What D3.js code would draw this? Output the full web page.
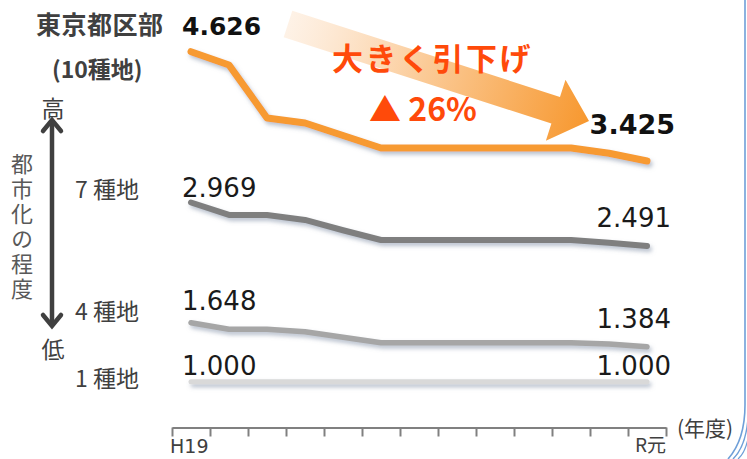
<!DOCTYPE html>
<html><head><meta charset="utf-8">
<script src="https://cdn.jsdelivr.net/npm/d3@7/dist/d3.min.js"></script>
<style>
html,body{margin:0;padding:0;background:#fff;}
svg{display:block;}
</style></head>
<body>
<svg id="c" width="747" height="459"></svg>
<script>
const years = ["H19","H20","H21","H22","H23","H24","H25","H26","H27","H28","H29","H30","R元"];
const tokyo10 = [4.626,4.48,3.898,3.843,3.705,3.568,3.568,3.568,3.568,3.568,3.568,3.51,3.425];
const grade7  = [2.969,2.832,2.832,2.777,2.664,2.557,2.557,2.557,2.557,2.557,2.557,2.527,2.491];
const grade4  = [1.648,1.576,1.576,1.549,1.489,1.429,1.429,1.429,1.429,1.429,1.429,1.414,1.384];
const grade1  = [1.000,1.000,1.000,1.000,1.000,1.000,1.000,1.000,1.000,1.000,1.000,1.000,1.000];
const seriesNames = ["10種地","7種地","4種地","1種地"];
const xTickLabels = ["H19","R元"];

const JP = "'Noto Sans CJK JP', 'Noto Sans', sans-serif";
const NUM = "'DejaVu Sans', sans-serif";

const svg = d3.select("#c");
const defs = svg.append("defs");

// drop shadow (user-space region so flat lines are not clipped)
const f = defs.append("filter").attr("id","sh").attr("filterUnits","userSpaceOnUse")
  .attr("x",0).attr("y",0).attr("width",747).attr("height",459);
f.append("feDropShadow").attr("dx",2).attr("dy",3).attr("stdDeviation",2)
  .attr("flood-color","#7f8fa6").attr("flood-opacity",0.55);

// scales
const x = d3.scaleBand().domain(years).range([172,666]).padding(0);
const xb = d3.scaleLinear().domain([0, years.length]).range([172,666]);
const y = d3.scaleLinear().domain([1, 4.626]).range([381.7, 51.7]);
const cx = d => x(d) + x.bandwidth()/2;

// big gradient arrow
const a0 = [288,24], a1 = [589,121];
const grad = defs.append("linearGradient").attr("id","ag").attr("gradientUnits","userSpaceOnUse")
  .attr("x1",a0[0]).attr("y1",a0[1]).attr("x2",a1[0]).attr("y2",a1[1]);
grad.append("stop").attr("offset",0).attr("stop-color","#fde9d6").attr("stop-opacity",0.6);
grad.append("stop").attr("offset",0.45).attr("stop-color","#fbcb98");
grad.append("stop").attr("offset",1).attr("stop-color","#f7982f");
(function(){
  const dx=a1[0]-a0[0], dy=a1[1]-a0[1], L=Math.hypot(dx,dy);
  const ux=dx/L, uy=dy/L, px=-uy, py=ux;
  const hw=14, hh=32, hl=35;
  const bx=a1[0]-ux*hl, by=a1[1]-uy*hl;
  const pts=[
    [a0[0]+px*hw,a0[1]+py*hw],[bx+px*hw,by+py*hw],[bx+px*hh,by+py*hh],[a1[0],a1[1]],
    [bx-px*hh,by-py*hh],[bx-px*hw,by-py*hw],[a0[0]-px*hw,a0[1]-py*hw]];
  svg.append("path").attr("d","M"+pts.map(p=>p.join(",")).join("L")+"Z").attr("fill","url(#ag)");
})();

// lines
const line = d3.line().x((d,i)=>cx(years[i])).y(d=>y(d));
const series = [
  {vals:grade1, color:"#d9d9d9", w:5},
  {vals:grade4, color:"#a6a6a6", w:5.5},
  {vals:grade7, color:"#7f7f7f", w:6},
  {vals:tokyo10, color:"#f79a32", w:7}
];
series.forEach(s=>{
  svg.append("path").datum(s.vals).attr("d",line).attr("fill","none")
    .attr("stroke",s.color).attr("stroke-width",s.w).attr("stroke-linejoin","round")
    .attr("stroke-linecap","round").attr("filter","url(#sh)");
});

// x axis
const axis = d3.axisBottom(xb).tickValues(d3.range(years.length+1)).tickSize(9).tickSizeOuter(0).tickFormat("");
const gx = svg.append("g").attr("transform","translate(0,427.5)").call(axis);
gx.selectAll("path,line").attr("stroke","#808080").attr("stroke-width",2);
svg.append("text").attr("x",xb(0)-2).attr("y",453).text(xTickLabels[0])
  .attr("font-family",NUM).attr("font-size",19).attr("fill","#404040");
svg.append("text").attr("x",xb(years.length)).attr("y",452).attr("text-anchor","end").text(xTickLabels[1])
  .attr("font-family",JP).attr("font-size",19).attr("fill","#404040");
svg.append("text").attr("x",677).attr("y",436).text("(年度)")
  .attr("font-family",JP).attr("font-size",21).attr("fill","#404040");

// value labels
function lab(txt, xx, yy, opt){
  opt=opt||{};
  return svg.append("text").attr("x",xx).attr("y",yy).text(txt)
    .attr("text-anchor",opt.anchor||"start")
    .attr("font-family",opt.font||NUM).attr("font-size",opt.size||26)
    .attr("font-weight",opt.weight||"normal").attr("fill",opt.fill||"#1a1a1a")
    .attr("letter-spacing",opt.ls||0);
}
const lastIdx = years.length-1;
const fmt = d3.format(".3f");
lab(fmt(tokyo10[0]), 182, 35, {size:25, weight:"bold", fill:"#111"});
lab(fmt(tokyo10[lastIdx]), 675, 134, {size:27, weight:"bold", fill:"#111", anchor:"end"});
lab(fmt(grade7[0]), 182, 197);
lab(fmt(grade7[lastIdx]), 671, 227, {anchor:"end"});
lab(fmt(grade4[0]), 182, 310);
lab(fmt(grade4[lastIdx]), 671, 328, {anchor:"end"});
lab(fmt(grade1[0]), 182, 375);
lab(fmt(grade1[lastIdx]), 671, 375, {anchor:"end"});

// left titles
lab("東京都区部", 36, 34, {font:JP, size:25, weight:"bold", fill:"#404040", ls:0.5});
lab("(" + seriesNames[0] + ")", 52, 78, {font:JP, size:23, weight:"bold", fill:"#404040"});
lab("7 種地", 75, 198, {font:JP, size:23, fill:"#404040"});
lab("4 種地", 75, 320, {font:JP, size:23, fill:"#404040"});
lab("1 種地", 75, 387, {font:JP, size:23, fill:"#404040"});
lab("高", 53, 117, {font:JP, size:23, fill:"#404040", anchor:"middle"});
lab("低", 53, 358, {font:JP, size:23, fill:"#404040", anchor:"middle"});
svg.append("text").attr("x",22).attr("y",153).text("都市化の程度")
  .attr("writing-mode","vertical-rl").attr("glyph-orientation-vertical",0)
  .attr("font-family",JP).attr("font-size",22).attr("fill","#595959")
  .attr("letter-spacing",3);

// double arrow
svg.append("line").attr("x1",52).attr("y1",121).attr("x2",52).attr("y2",325)
  .attr("stroke","#404040").attr("stroke-width",4.5);
svg.append("path").attr("d","M43,131L52,120L61,131").attr("fill","none").attr("stroke","#404040")
  .attr("stroke-width",4.5).attr("stroke-linecap","round").attr("stroke-linejoin","miter");
svg.append("path").attr("d","M43,315L52,326L61,315").attr("fill","none").attr("stroke","#404040")
  .attr("stroke-width",4.5).attr("stroke-linecap","round").attr("stroke-linejoin","miter");

// red annotation
lab("大きく引下げ", 332, 70, {font:JP, size:31, weight:"bold", fill:"#ff4a0a", ls:2.5});
lab("▲ 26%", 369, 121, {font:JP, size:32, weight:"bold", fill:"#ff4a0a"});

// decorative right border
[["M745,0L745,405Q745,440 728,459",1.6],["M748,418Q746,446 733,459",1.4],["M750,424Q748,451 738,459",1.2]].forEach(p=>{
  svg.append("path").attr("d",p[0]).attr("fill","none").attr("stroke","#6f9fd8").attr("stroke-width",p[1]);
});
</script>
</body></html>
